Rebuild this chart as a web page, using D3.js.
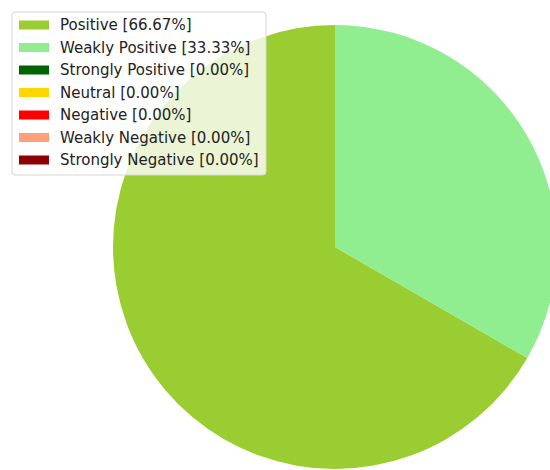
<!DOCTYPE html>
<html>
<head>
<meta charset="utf-8">
<script src="https://cdn.jsdelivr.net/npm/d3@7"></script>
<style>
    body { margin: 0; background: #fff; }
    svg { display: block; font-family: "DejaVu Sans", sans-serif; }
</style>
</head>
<body>
<div id="chart"></div>
<script>
const labels = ['Positive', 'Weakly Positive', 'Strongly Positive', 'Neutral', 'Negative', 'Weakly Negative', 'Strongly Negative'];
const shares = [66.67, 33.33, 0, 0, 0, 0, 0];
const colors = ['#9acd32', '#90ee90', '#006400', '#ffd700', '#ff0000', '#ffa07a', '#8b0000'];

const width = 550, height = 470;
const cx = 335, cy = 247, radius = 222;

const svg = d3.select('#chart')
    .append('svg')
    .attr('width', width)
    .attr('height', height);

const data = labels.map((l, i) => ({ label: l, value: shares[i], color: colors[i] }));

// matplotlib style: start at top, counterclockwise
const pie = d3.pie()
    .value(d => d.value)
    .sort(null)
    .startAngle(0)
    .endAngle(-2 * Math.PI);

const arc = d3.arc().innerRadius(0).outerRadius(radius);

svg.append('g')
    .attr('transform', 'translate(' + cx + ',' + cy + ')')
    .selectAll('path')
    .data(pie(data).filter(d => d.data.value > 0))
    .enter()
    .append('path')
    .attr('d', arc)
    .style('fill', d => d.data.color);

// legend
const legend = svg.append('g').attr('transform', 'translate(12,12)');

legend.append('rect')
    .attr('width', 254)
    .attr('height', 163)
    .attr('rx', 3)
    .style('fill', 'white')
    .style('fill-opacity', 0.8)
    .style('stroke', '#d6d6d6')
    .style('stroke-width', 1);

const rowY = d3.scaleBand()
    .domain(labels)
    .range([1.75, 159.25])
    .padding(0);

const rows = legend.selectAll('.row')
    .data(data)
    .enter()
    .append('g')
    .attr('class', 'row')
    .attr('transform', d => 'translate(0,' + (rowY(d.label) + rowY.bandwidth() / 2) + ')');

rows.append('rect')
    .attr('x', 7)
    .attr('y', -4.5)
    .attr('width', 30)
    .attr('height', 9)
    .style('fill', d => d.color);

rows.append('text')
    .attr('x', 48)
    .attr('dy', '0.35em')
    .style('font-size', '15px')
    .style('fill', '#222')
    .text(d => d.label + ' [' + d.value.toFixed(2) + '%]');
</script>
</body>
</html>
